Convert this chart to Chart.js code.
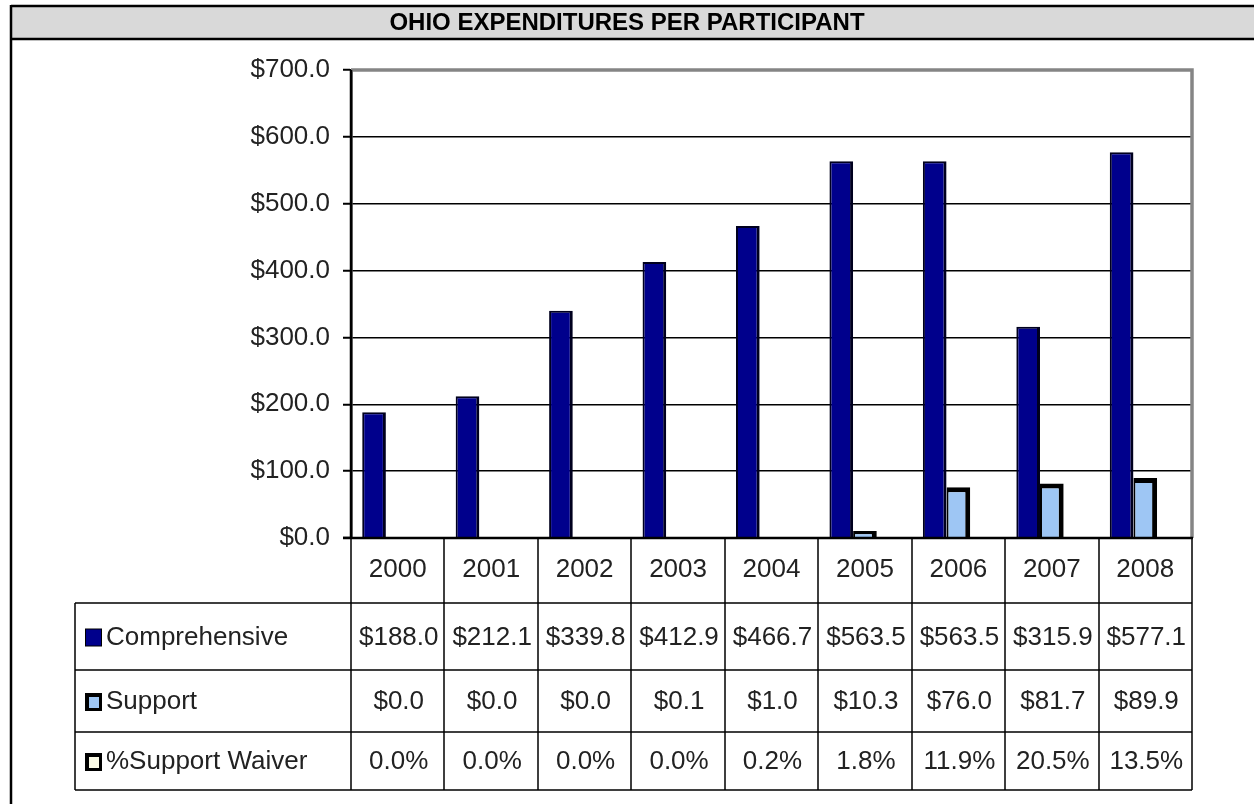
<!DOCTYPE html>
<html>
<head>
<meta charset="utf-8">
<script src="https://cdn.jsdelivr.net/npm/chart.js@4.4.1/dist/chart.umd.min.js"></script>
<style>
    html, body { margin: 0; padding: 0; background: #fff; }
    #wrap { position: relative; width: 1254px; height: 804px; }
</style>
</head>
<body>
<div id="wrap"><canvas id="chart" width="1254" height="804"></canvas></div>
<script>
const chartTitle = 'OHIO EXPENDITURES PER PARTICIPANT';
const years = ['2000', '2001', '2002', '2003', '2004', '2005', '2006', '2007', '2008'];
const comprehensive = [188.0, 212.1, 339.8, 412.9, 466.7, 563.5, 563.5, 315.9, 577.1];
const support = [0.0, 0.0, 0.0, 0.1, 1.0, 10.3, 76.0, 81.7, 89.9];
const waiverPct = [0.0, 0.0, 0.0, 0.0, 0.2, 1.8, 11.9, 20.5, 13.5];
const yTicks = [0, 100, 200, 300, 400, 500, 600, 700];

const FONT = "'Liberation Sans', Arial, sans-serif";
const NAVY = '#00008c';
const LIGHT = '#9ec6f4';
const CREAM = '#fbfbe6';

const money = v => '$' + v.toFixed(1);
const pct = v => v.toFixed(1) + '%';

// table rows under the plot, built from the series arrays
const tableRows = [
    {label: 'Comprehensive', key: NAVY, thin: true, values: comprehensive.map(money)},
    {label: 'Support', key: LIGHT, thin: false, values: support.map(money)},
    {label: '%Support Waiver', key: CREAM, thin: false, values: waiverPct.map(pct)}
];

const tablePlugin = {
    id: 'tablePlugin',
    afterDraw(chart) {
        const ctx = chart.ctx;
        const area = chart.chartArea;
        const x = chart.scales.x;
        const step = (area.right - area.left) / years.length;
        const tableLeft = 75;
        const rowLines = [603, 670, 732, 790];

        ctx.save();

        // title bar
        ctx.fillStyle = '#d9d9d9';
        ctx.fillRect(11, 6, 1254 - 11, 33);
        ctx.strokeStyle = '#000';
        ctx.lineWidth = 2.5;
        ctx.beginPath();
        ctx.moveTo(11, 6); ctx.lineTo(1254, 6);
        ctx.moveTo(11, 39); ctx.lineTo(1254, 39);
        ctx.moveTo(11, 5); ctx.lineTo(11, 804);
        ctx.stroke();
        ctx.fillStyle = '#000';
        ctx.font = 'bold 24px ' + FONT;
        ctx.textAlign = 'center';
        ctx.textBaseline = 'middle';
        ctx.fillText(chartTitle, 627, 23);

        // plot frame: gray top/right, black bottom
        ctx.strokeStyle = '#858585';
        ctx.lineWidth = 3.5;
        ctx.beginPath();
        ctx.moveTo(area.left, area.top);
        ctx.lineTo(area.right, area.top);
        ctx.lineTo(area.right, area.bottom);
        ctx.stroke();
        ctx.strokeStyle = '#000';
        ctx.lineWidth = 2.5;
        ctx.beginPath();
        ctx.moveTo(area.left - 8, area.bottom);
        ctx.lineTo(area.right + 1, area.bottom);
        ctx.moveTo(area.left, area.top);
        ctx.lineTo(area.left, area.bottom);
        ctx.stroke();

        // column lines of the data table
        ctx.lineWidth = 1.5;
        ctx.beginPath();
        for (let i = 0; i <= years.length; i++) {
            const cx = Math.round(area.left + i * step);
            ctx.moveTo(cx, area.bottom);
            ctx.lineTo(cx, rowLines[rowLines.length - 1]);
        }
        rowLines.forEach(y => {
            ctx.moveTo(tableLeft, y);
            ctx.lineTo(area.right, y);
        });
        ctx.moveTo(tableLeft, rowLines[0]);
        ctx.lineTo(tableLeft, rowLines[rowLines.length - 1]);
        ctx.stroke();

        // year labels
        ctx.fillStyle = '#222';
        ctx.font = '26px ' + FONT;
        ctx.textAlign = 'center';
        years.forEach((yr, i) => {
            ctx.fillText(yr, x.getPixelForValue(i), 570);
        });

        // data rows
        tableRows.forEach((row, r) => {
            const cy = (rowLines[r] + rowLines[r + 1]) / 2 + 1;
            // legend key
            ctx.fillStyle = '#000';
            ctx.fillRect(85, cy - 9, 17, 18);
            ctx.fillStyle = row.key;
            if (row.thin) {
                ctx.fillRect(86, cy - 8, 15, 16);
            } else {
                ctx.fillRect(89, cy - 5, 10, 11);
            }
            ctx.fillStyle = '#222';
            ctx.textAlign = 'left';
            ctx.fillText(row.label, 106, cy);
            ctx.textAlign = 'center';
            row.values.forEach((v, i) => {
                ctx.fillText(v, x.getPixelForValue(i) + 1, cy);
            });
        });

        ctx.restore();
    }
};

const ctx = document.getElementById('chart').getContext('2d');

new Chart(ctx, {
    type: 'bar',
    data: {
        labels: years,
        datasets: [
            {
                label: 'Comprehensive',
                data: comprehensive,
                backgroundColor: NAVY,
                borderColor: '#00001e',
                borderWidth: {left: 2, right: 3, top: 2, bottom: 0}
            },
            {
                label: 'Support',
                data: support,
                backgroundColor: LIGHT,
                borderColor: '#000',
                borderWidth: {left: 2, right: 5, top: 5, bottom: 0}
            },
            {
                label: '%Support Waiver',
                // percent values on the dollar axis, as the original does
                data: waiverPct.map(p => p / 100),
                backgroundColor: CREAM,
                borderColor: '#000',
                borderWidth: 0
            }
        ]
    },
    options: {
        responsive: false,
        animation: false,
        devicePixelRatio: 1,
        layout: {
            padding: {left: 0, top: 70, right: 62, bottom: 266}
        },
        datasets: {
            bar: {
                categoryPercentage: 0.76,
                barPercentage: 1.0
            }
        },
        scales: {
            x: {
                display: false
            },
            y: {
                min: 0,
                max: 700,
                afterBuildTicks: axis => {
                    axis.ticks = yTicks.map(v => ({value: v}));
                },
                afterFit: axis => {
                    axis.width = 351;
                },
                ticks: {
                    callback: v => money(v),
                    color: '#222',
                    padding: 13,
                    font: {family: FONT, size: 26}
                },
                grid: {
                    color: '#000',
                    lineWidth: 1.5,
                    tickLength: 8,
                    tickColor: '#000',
                    tickWidth: 2
                },
                border: {
                    display: true,
                    color: '#000',
                    width: 2.5
                }
            }
        },
        plugins: {
            legend: {display: false},
            tooltip: {enabled: false},
            title: {display: false}
        }
    },
    plugins: [tablePlugin]
});
</script>
</body>
</html>
